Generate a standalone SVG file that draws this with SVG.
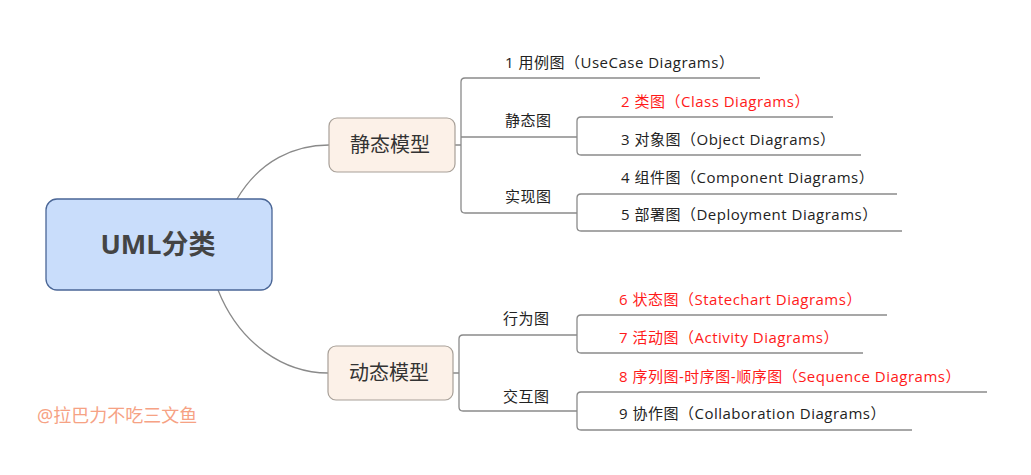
<svg xmlns="http://www.w3.org/2000/svg" width="1031" height="475" viewBox="0 0 1031 475">
<style>
.t{font-family:"Open Sans","Noto Sans","Noto Sans CJK SC",sans-serif;font-size:15px;letter-spacing:0.5px;fill:#222}
.r{fill:#ff1a1a}
.c{fill:none;stroke:#8a8a8a;stroke-width:1.3}
.m{font-family:"Noto Sans CJK SC",sans-serif;font-size:20px;fill:#333;text-anchor:middle}
.mb{fill:#fcf1e8;stroke:#a8a098;stroke-width:1.2}
</style>
<rect width="1031" height="475" fill="#fff"/>
<g id="connectors">
<path class="c" d="M237,199 C260,160 295,145 329,145"/>
<path class="c" d="M218,290 C240,345 285,373 328,373"/>
<path class="c" d="M455,145 H461 M760,78 H465 Q461,78 461,82 V209 Q461,213 465,213 H577 M461,137 H577"/>
<path class="c" d="M833,117 H581 Q577,117 577,121 V151 Q577,155 581,155 H861"/>
<path class="c" d="M897,194 H581 Q577,194 577,198 V227 Q577,231 581,231 H902"/>
<path class="c" d="M453,373 H459 M577,335 H463 Q459,335 459,339 V407 Q459,411 463,411 H577"/>
<path class="c" d="M887,315 H581 Q577,315 577,319 V349 Q577,353 581,353 H863"/>
<path class="c" d="M987,392 H581 Q577,392 577,396 V426 Q577,430 581,430 H912"/>
</g>
<g id="root">
<rect x="46" y="199" width="226" height="91" rx="11" fill="#c9ddfb" stroke="#4a6696" stroke-width="1.3"/>
<text x="158" y="254" font-family="'Open Sans','Noto Sans CJK SC',sans-serif" font-weight="bold" font-size="27" fill="#444" text-anchor="middle">UML分类</text>
</g>
<g id="static">
<rect class="mb" x="329" y="118" width="126" height="54" rx="8"/>
<text class="m" x="390" y="152">静态模型</text>
</g>
<g id="dynamic">
<rect class="mb" x="328" y="346" width="125" height="54" rx="8"/>
<text class="m" x="389" y="380">动态模型</text>
</g>
<g id="n1"><text class="t" x="505" y="68">1 用例图（UseCase Diagrams）</text></g>
<g id="s1"><text class="t" x="505" y="126">静态图</text></g>
<g id="n2"><text class="t r" x="621" y="107">2 类图（Class Diagrams）</text></g>
<g id="n3"><text class="t" x="621" y="145">3 对象图（Object Diagrams）</text></g>
<g id="s2"><text class="t" x="505" y="202">实现图</text></g>
<g id="n4"><text class="t" x="621" y="183">4 组件图（Component Diagrams）</text></g>
<g id="n5"><text class="t" x="621" y="220">5 部署图（Deployment Diagrams）</text></g>
<g id="d1"><text class="t" x="503" y="324">行为图</text></g>
<g id="n6"><text class="t r" x="619" y="305">6 状态图（Statechart Diagrams）</text></g>
<g id="n7"><text class="t r" x="619" y="343">7 活动图（Activity Diagrams）</text></g>
<g id="d2"><text class="t" x="503" y="402">交互图</text></g>
<g id="n8"><text class="t r" x="619" y="382">8 序列图-时序图-顺序图（Sequence Diagrams）</text></g>
<g id="n9"><text class="t" x="619" y="419">9 协作图（Collaboration Diagrams）</text></g>
<g id="watermark"><text x="37" y="422" font-family="'Noto Sans','Noto Sans CJK SC',sans-serif" font-size="18" fill="#f6a284">@拉巴力不吃三文鱼</text></g>
</svg>
